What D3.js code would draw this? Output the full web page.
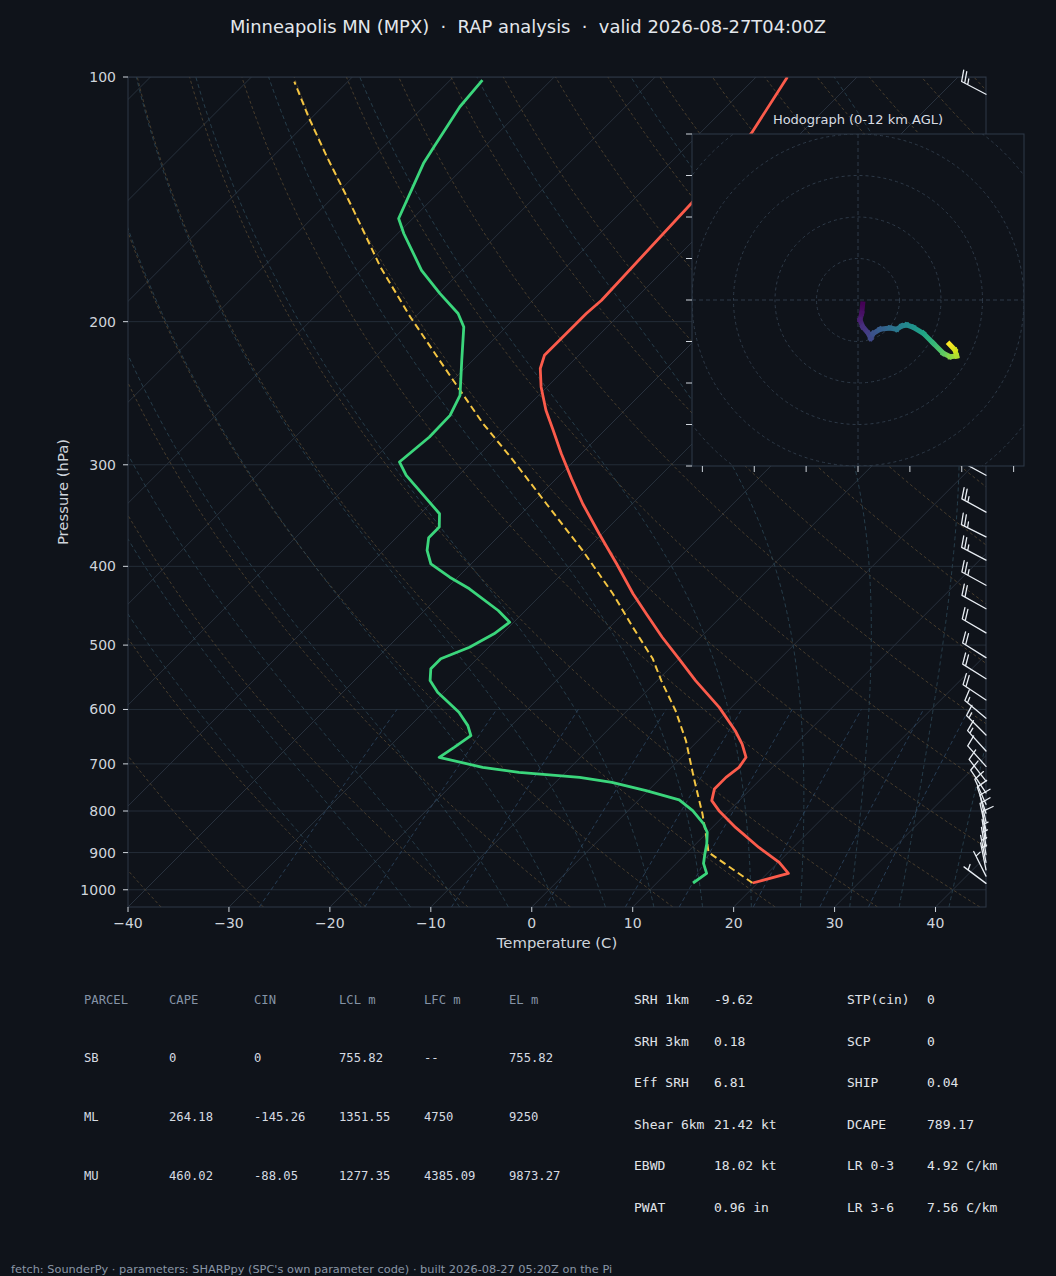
<!DOCTYPE html>
<html lang="en">
<head>
<meta charset="utf-8"/>
<title>Skew-T – Minneapolis MN (MPX)</title>
<script src="https://cdn.jsdelivr.net/npm/d3@7/dist/d3.min.js"></script>
<style>
  html,body { margin:0; padding:0; background:#0f131a; }
  svg { display:block; }
  text { font-family:"DejaVu Sans", sans-serif; }
  .mono { font-family:"DejaVu Sans Mono", monospace; }
</style>
</head>
<body>
<svg id="chart" width="1056" height="1276"></svg>
<script>
// ---- sounding data ----
const tempP = [100,117.2,142.9,188.2,195.4,203,210.8,220,228.4,240.6,257.1,272.1,290.6,312,335,364.7,397.1,432.3,457.6,489,519.8,552.9,596.5,637.3,661.8,687.1,707,727.3,751.6,776.9,799.2,838,887,925.5,954.8,981];
const tempC = [-56.9,-54.9,-53.9,-53.2,-53.4,-53.4,-53.4,-53.4,-52.5,-50.6,-47.8,-45.1,-42.0,-38.5,-34.9,-30.3,-25.6,-21.0,-17.7,-13.8,-10.0,-6.2,-1.2,2.7,4.7,6.4,6.7,6.4,6.4,7.3,9.0,12.3,16.6,20.1,22.1,19.5];

const dewP = [100.9,108.8,121.9,127.7,149.3,155.8,172.9,184.6,195.4,203,223.1,246.4,260.8,277.3,297.6,309.1,344.6,357.9,368.8,382.3,397.1,412.5,426.3,453.3,468.6,484.3,503,519.8,534.7,552.9,571.5,604.9,628.1,646.3,668.1,687.1,707,717.1,727.3,737.8,755.2,775.3,799.2,829.9,850.1,878.5,903.7,928.1,954.8,981];
const dewC = [-86.8,-86.4,-85.0,-84.4,-81.4,-79.4,-74.0,-69.9,-66.1,-64.2,-61.1,-57.8,-56.8,-56.7,-57.2,-55.2,-48.1,-46.8,-46.8,-45.7,-44.0,-40.8,-37.7,-32.7,-30.4,-30.8,-31.9,-33.6,-33.6,-32.5,-30.6,-26.5,-24.3,-23.0,-23.5,-24.0,-18.7,-14.6,-8.1,-4.4,-0.2,4.0,6.4,8.8,10.0,11.1,11.9,12.7,14.0,13.6];

const parcelP = [981,899.5,870.4,806.8,727.3,655.5,602.1,552.9,519.8,475.3,432.3,382.3,335,296.2,267,242.9,223.1,197.3,171.3,145.8,125.4,112.4,101.3];
const parcelC = [19.5,12.1,10.8,7.7,3.2,-1.2,-5.2,-9.6,-12.6,-17.7,-23.0,-30.3,-38.5,-46.1,-52.7,-58.3,-63.3,-70.5,-78.4,-86.7,-94.6,-100.2,-105.3];

// wind barbs (kt)
const barbP = [105,309,343,368,393,422,451,483,518,550,584,615,645,675,705,735,760,785,805,825,845,865,885,905,925,945,962,982];
const barbU = [21,22,22,22,21,20,18,17,16,16,15,12,10,9,8,7,6,4,3,2,2,1,1,1,1,1,2,4];
const barbV = [-11,-12,-12,-11,-11,-11,-10,-10,-10,-10,-10,-10,-10,-10,-9,-9,-9,-9,-9,-9,-9,-8,-7,-6,-5,-5,-4,-3];

// hodograph trace (kt, height km AGL)
const hodoU = [1.13,0.89,0.48,1.13,2.48,3.06,3.69,5.3,7.71,9.33,10.53,11.73,13.33,15.73,18.14,20.55,22.17,23.78,23.37,22.0];
const hodoV = [-0.96,-3.2,-4.82,-6.43,-8.02,-9.23,-8.02,-7.06,-6.75,-7.06,-6.27,-6.02,-6.58,-8.02,-10.43,-12.84,-13.66,-13.49,-12.05,-10.6];
const hodoZ = [0,0.5,1.0,1.6,2.2,2.6,3.0,3.5,4.2,4.8,5.2,5.6,6.1,7.0,8.0,9.0,9.8,10.5,11.2,12];

// axis ticks
const pTicks = [100,200,300,400,500,600,700,800,900,1000];
const tTicks = [-40,-30,-20,-10,0,10,20,30,40];

// parameter table
const parcelHead = ["PARCEL","CAPE","CIN","LCL m","LFC m","EL m"];
const parcelRows = [
  ["SB","0","0","755.82","--","755.82"],
  ["ML","264.18","-145.26","1351.55","4750","9250"],
  ["MU","460.02","-88.05","1277.35","4385.09","9873.27"]
];
const paramLeft  = [["SRH 1km","-9.62"],["SRH 3km","0.18"],["Eff SRH","6.81"],["Shear 6km","21.42 kt"],["EBWD","18.02 kt"],["PWAT","0.96 in"]];
const paramRight = [["STP(cin)","0"],["SCP","0"],["SHIP","0.04"],["DCAPE","789.17"],["LR 0-3","4.92 C/km"],["LR 3-6","7.56 C/km"]];

// background line families
const dryT0   = d3.range(-40, 201, 10);
const moistT0 = [-20,-15,-10,-5,0,5,10,15,20,25,30,35,40];
const mixW    = [0.0004,0.001,0.002,0.004,0.007,0.01,0.016,0.024,0.032];

// ---- layout ----
const BG = "#0f131a";
const L = 128, R = 986, T = 77, B = 907;
const svg = d3.select("#chart");
svg.append("rect").attr("width",1056).attr("height",1276).attr("fill",BG);

const y  = d3.scaleLog().domain([1050,100]).range([B,T]);
const xb = d3.scaleLinear().domain([-40,45]).range([L,R]);
const X  = (t,p) => xb(t) + (B - y(p));      // 45 degree skew

svg.append("text").attr("x",528).attr("y",33).attr("text-anchor","middle")
  .attr("font-size",17.9).attr("fill","#e3e7ec")
  .text("Minneapolis MN (MPX)  ·  RAP analysis  ·  valid 2026-08-27T04:00Z")
  .style("white-space","pre");

const defs = svg.append("defs");
defs.append("clipPath").attr("id","plotClip")
  .append("rect").attr("x",L).attr("y",T).attr("width",R-L).attr("height",B-T);

const plot = svg.append("g").attr("clip-path","url(#plotClip)");

// horizontal grid
plot.selectAll("line.hgrid").data(pTicks).join("line")
  .attr("x1",L).attr("x2",R).attr("y1",d=>y(d)).attr("y2",d=>y(d))
  .attr("stroke","#242d38").attr("stroke-width",1);

// isotherms
plot.selectAll("line.iso").data(d3.range(-130,51,10)).join("line")
  .attr("x1",d=>X(d,1050)).attr("y1",B).attr("x2",d=>X(d,100)).attr("y2",T)
  .attr("stroke","#28313d").attr("stroke-width",1);

// thermodynamics for the reference lines
const es = tc => 6.112*Math.exp(17.67*tc/(tc+243.5));
const rsat = (p,tc) => { const e = es(tc); return 0.622*e/(p-e); };
function dTdp(p,tk){
  const Rd=287.04, Lv=2.501e6, Cp=1005.7, eps=0.622;
  const r = rsat(p, tk-273.15);
  return (1/p)*(Rd*tk + Lv*r)/(Cp + (Lv*Lv*r*eps)/(Rd*tk*tk));
}
function integrate(p0,t0,p1,dp){
  const out=[[p0,t0]]; let p=p0, t=t0;
  while ((dp<0 && p>p1) || (dp>0 && p<p1)){
    const h = dp<0 ? Math.max(dp,p1-p) : Math.min(dp,p1-p);
    const k1=dTdp(p,t), k2=dTdp(p+h/2,t+k1*h/2), k3=dTdp(p+h/2,t+k2*h/2), k4=dTdp(p+h,t+k3*h);
    t += h*(k1+2*k2+2*k3+k4)/6; p += h; out.push([p,t]);
  }
  return out;
}
const pGrid = d3.range(0,61).map(i => 1050*Math.pow(100/1050, i/60));
const line = d3.line().x(d=>X(d[1],d[0])).y(d=>y(d[0]));

// dry adiabats
plot.selectAll("path.dry").data(dryT0).join("path")
  .attr("d", t0 => line(pGrid.map(p => [p, (t0+273.15)*Math.pow(p/1000,0.2857)-273.15])))
  .attr("fill","none").attr("stroke","#5e4c34").attr("stroke-width",0.9)
  .attr("stroke-dasharray","3,2.5").attr("opacity",0.8);

// moist adiabats
plot.selectAll("path.moist").data(moistT0).join("path")
  .attr("d", t0 => {
    const upPts = integrate(1000, t0+273.15, 100, -5);
    const dnPts = integrate(1000, t0+273.15, 1050, 5).reverse();
    return line(dnPts.concat(upPts.slice(1)).map(d=>[d[0], d[1]-273.15]));
  })
  .attr("fill","none").attr("stroke","#2b4655").attr("stroke-width",0.9)
  .attr("stroke-dasharray","4,3").attr("opacity",0.9);

// mixing ratio lines
const pMix = d3.range(0,21).map(i => 1050*Math.pow(600/1050, i/20));
plot.selectAll("path.mix").data(mixW).join("path")
  .attr("d", w => line(pMix.map(p => {
    const e = w*p/(0.622+w), a = Math.log(e/6.112);
    return [p, 243.5*a/(17.67-a)];
  })))
  .attr("fill","none").attr("stroke","#2c4662").attr("stroke-width",0.9)
  .attr("stroke-dasharray","4,3").attr("opacity",0.9);

// profiles
const prof = (P,C) => P.map((p,i)=>[p,C[i]]);
plot.append("path").attr("d", line(prof(parcelP,parcelC)))
  .attr("fill","none").attr("stroke","#f4c542").attr("stroke-width",2)
  .attr("stroke-dasharray","7,4");
plot.append("path").attr("d", line(prof(dewP,dewC)))
  .attr("fill","none").attr("stroke","#3bd67c").attr("stroke-width",2.8)
  .attr("stroke-linejoin","round");
plot.append("path").attr("d", line(prof(tempP,tempC)))
  .attr("fill","none").attr("stroke","#fb5b4b").attr("stroke-width",2.8)
  .attr("stroke-linejoin","round");

// spine
svg.append("rect").attr("x",L).attr("y",T).attr("width",R-L).attr("height",B-T)
  .attr("fill","none").attr("stroke","#2e3947").attr("stroke-width",1);

// axes ticks + labels
const tickCol = "#cfd5dc";
svg.selectAll("line.yt").data(pTicks).join("line")
  .attr("x1",L-5).attr("x2",L).attr("y1",d=>y(d)).attr("y2",d=>y(d))
  .attr("stroke",tickCol);
svg.selectAll("text.yt").data(pTicks).join("text")
  .attr("x",L-12).attr("y",d=>y(d)+5).attr("text-anchor","end")
  .attr("font-size",14).attr("fill",tickCol).text(d=>d);
svg.selectAll("line.xt").data(tTicks).join("line")
  .attr("x1",d=>xb(d)).attr("x2",d=>xb(d)).attr("y1",B).attr("y2",B+5)
  .attr("stroke",tickCol);
svg.selectAll("text.xt").data(tTicks).join("text")
  .attr("x",d=>xb(d)).attr("y",B+21).attr("text-anchor","middle")
  .attr("font-size",14).attr("fill",tickCol).text(d=>d<0 ? "\u2212"+(-d) : d);
svg.append("text").attr("x",(L+R)/2).attr("y",948).attr("text-anchor","middle")
  .attr("font-size",14.8).attr("fill",tickCol).text("Temperature (C)");
svg.append("text").attr("transform",`translate(68,${(T+B)/2}) rotate(-90)`)
  .attr("text-anchor","middle").attr("font-size",14.8).attr("fill",tickCol)
  .text("Pressure (hPa)");

// wind barbs (matplotlib-style geometry, base on the right spine)
const bl = 27.5, bh = 0.4*bl, bw = 0.25*bl, bs = 0.125*bl;
const barbG = svg.append("g").attr("stroke","#e8edf3").attr("stroke-width",1.3)
  .attr("fill","none").attr("stroke-linecap","round");
barbP.forEach((p,i)=>{
  const u = barbU[i], v = barbV[i];
  const spd = Math.hypot(u,v);
  const x0 = R, y0 = y(p);
  let mag = 5*Math.floor(spd/5 + 0.5);
  if (mag === 0){ barbG.append("circle").attr("cx",x0).attr("cy",y0).attr("r",3); return; }
  const sd = [-u/spd, v/spd], pp = [-v/spd, -u/spd];
  const nFlag = Math.floor(mag/50); mag -= nFlag*50;
  const nFull = Math.floor(mag/10); mag -= nFull*10;
  const half = mag >= 5;
  const pt = o => [x0 + sd[0]*o, y0 + sd[1]*o];
  let d = `M${x0},${y0}L${pt(bl)}`;
  let off = bl;
  for (let k=0;k<nFull;k++){
    const a = pt(off);
    d += `M${a}L${a[0]+bh*pp[0]+bw/2*sd[0]},${a[1]+bh*pp[1]+bw/2*sd[1]}`;
    off -= bs;
  }
  if (half){
    if (off === bl) off -= 1.5*bs;
    const a = pt(off);
    d += `M${a}L${a[0]+bh/2*pp[0]+bw/4*sd[0]},${a[1]+bh/2*pp[1]+bw/4*sd[1]}`;
  }
  barbG.append("path").attr("d",d);
});

// ---- hodograph inset ----
const hx = d3.scaleLinear().domain([-40,40]).range([692,1024]);
const hy = d3.scaleLinear().domain([-40,40]).range([466,134]);
const hodo = svg.append("g");
defs.append("clipPath").attr("id","hodoClip")
  .append("rect").attr("x",692).attr("y",134).attr("width",332).attr("height",332);
hodo.append("rect").attr("x",692).attr("y",134).attr("width",332).attr("height",332)
  .attr("fill",BG);
const hg = hodo.append("g").attr("clip-path","url(#hodoClip)");
hg.selectAll("circle").data([10,20,30,40,50,60]).join("circle")
  .attr("cx",hx(0)).attr("cy",hy(0)).attr("r",d=>hx(d)-hx(0))
  .attr("fill","none").attr("stroke","#2e3a48").attr("stroke-dasharray","3,3");
hg.append("line").attr("x1",692).attr("x2",1024).attr("y1",hy(0)).attr("y2",hy(0))
  .attr("stroke","#2e3a48").attr("stroke-dasharray","4,3");
hg.append("line").attr("y1",134).attr("y2",466).attr("x1",hx(0)).attr("x2",hx(0))
  .attr("stroke","#2e3a48").attr("stroke-dasharray","4,3");

hodoU.slice(1).forEach((u,i)=>{
  const xa=hx(hodoU[i]), ya=hy(hodoV[i]), xz=hx(u), yz=hy(hodoV[i+1]);
  const gid = "hg"+i;
  const g = defs.append("linearGradient").attr("id",gid).attr("gradientUnits","userSpaceOnUse")
    .attr("x1",xa).attr("y1",ya).attr("x2",xz).attr("y2",yz);
  g.append("stop").attr("offset",0).attr("stop-color",d3.interpolateViridis(hodoZ[i]/12));
  g.append("stop").attr("offset",1).attr("stop-color",d3.interpolateViridis(hodoZ[i+1]/12));
  hg.append("line").attr("x1",xa).attr("y1",ya).attr("x2",xz).attr("y2",yz)
    .attr("stroke",`url(#${gid})`).attr("stroke-width",5).attr("stroke-linecap","square");
});

hodo.append("rect").attr("x",692).attr("y",134).attr("width",332).attr("height",332)
  .attr("fill","none").attr("stroke","#2e3a48");
hodo.selectAll("line.hyt").data(d3.range(-40,41,10)).join("line")
  .attr("x1",686).attr("x2",692).attr("y1",d=>hy(d)).attr("y2",d=>hy(d)).attr("stroke",tickCol);
hodo.selectAll("line.hxt").data(d3.range(-37.5,37.6,12.5)).join("line")
  .attr("x1",d=>hx(d)).attr("x2",d=>hx(d)).attr("y1",466).attr("y2",472).attr("stroke",tickCol);
hodo.append("text").attr("x",858).attr("y",124).attr("text-anchor","middle")
  .attr("font-size",13).attr("fill","#d8dde3").text("Hodograph (0-12 km AGL)");

// ---- parameter table ----
const tbl = svg.append("g").attr("class","mono");
const colX = [84,169,254,339,424,509];
parcelHead.forEach((h,j)=>{
  tbl.append("text").attr("class","mono").attr("x",colX[j]).attr("y",1004)
    .attr("font-size",12.2).attr("fill","#8593a6").text(h);
});
parcelRows.forEach((row,i)=>{
  row.forEach((c,j)=>{
    tbl.append("text").attr("class","mono").attr("x",colX[j]).attr("y",1062+i*59)
      .attr("font-size",12.2).attr("fill","#d6dbe2").text(c);
  });
});
const rowY = i => 1004 + i*41.5;
paramLeft.forEach((r,i)=>{
  tbl.append("text").attr("class","mono").attr("x",634).attr("y",rowY(i))
    .attr("font-size",13).attr("fill","#e0e4e9").text(r[0]);
  tbl.append("text").attr("class","mono").attr("x",714).attr("y",rowY(i))
    .attr("font-size",13).attr("fill","#e0e4e9").text(r[1]);
});
paramRight.forEach((r,i)=>{
  tbl.append("text").attr("class","mono").attr("x",847).attr("y",rowY(i))
    .attr("font-size",13).attr("fill","#e0e4e9").text(r[0]);
  tbl.append("text").attr("class","mono").attr("x",927).attr("y",rowY(i))
    .attr("font-size",13).attr("fill","#e0e4e9").text(r[1]);
});

svg.append("text").attr("x",11).attr("y",1273).attr("font-size",11.35).attr("fill","#8a96a6")
  .text("fetch: SounderPy · parameters: SHARPpy (SPC's own parameter code) · built 2026-08-27 05:20Z on the Pi");
</script>
</body>
</html>
